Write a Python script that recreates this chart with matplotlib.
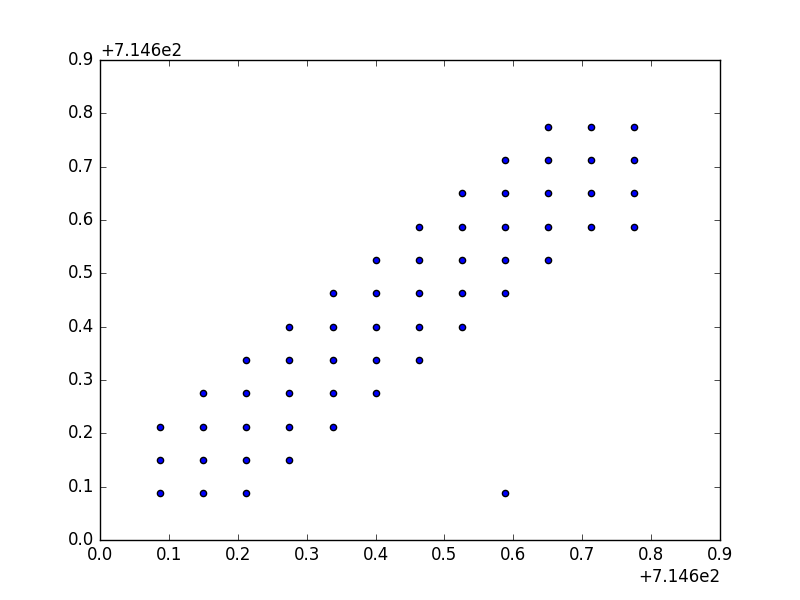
import matplotlib
matplotlib.use("Agg")
import matplotlib.pyplot as plt
import numpy as np
from matplotlib.ticker import ScalarFormatter, FixedLocator

plt.style.use('classic')

base = 714.6
grid = [0.0875, 0.15, 0.2125, 0.275, 0.3375, 0.4, 0.4625, 0.525, 0.5875, 0.65, 0.7125, 0.775]
tick_vals = [0.0, 0.1, 0.2, 0.3, 0.4, 0.5, 0.6, 0.7, 0.8, 0.9]

# column index -> list of row indices present
columns = {
    0: [0, 1, 2],
    1: [0, 1, 2, 3],
    2: [0, 1, 2, 3, 4],
    3: [1, 2, 3, 4, 5],
    4: [2, 3, 4, 5, 6],
    5: [3, 4, 5, 6, 7],
    6: [4, 5, 6, 7, 8],
    7: [5, 6, 7, 8, 9],
    8: [0, 6, 7, 8, 9, 10],
    9: [7, 8, 9, 10, 11],
    10: [8, 9, 10, 11],
    11: [8, 9, 10, 11],
}

xs = []
ys = []
for ci, rows in columns.items():
    for ri in rows:
        xs.append(base + grid[ci])
        ys.append(base + grid[ri])

fig = plt.figure(figsize=(8, 6), dpi=100)
ax = fig.add_subplot(111)
ax.scatter(xs, ys, s=20, c='b', edgecolors='k')
ax.set_xlim(base + tick_vals[0], base + tick_vals[-1])
ax.set_ylim(base + tick_vals[0], base + tick_vals[-1])
ticks = [base + t for t in tick_vals]
for axis in (ax.xaxis, ax.yaxis):
    axis.set_major_locator(FixedLocator(ticks))
    fmt = ScalarFormatter(useOffset=base)
    axis.set_major_formatter(fmt)
fig.canvas.draw()
ax.xaxis.get_offset_text().set_text('+7.146e2')
ax.yaxis.get_offset_text().set_text('+7.146e2')
fig.savefig("out.png", dpi=100)
